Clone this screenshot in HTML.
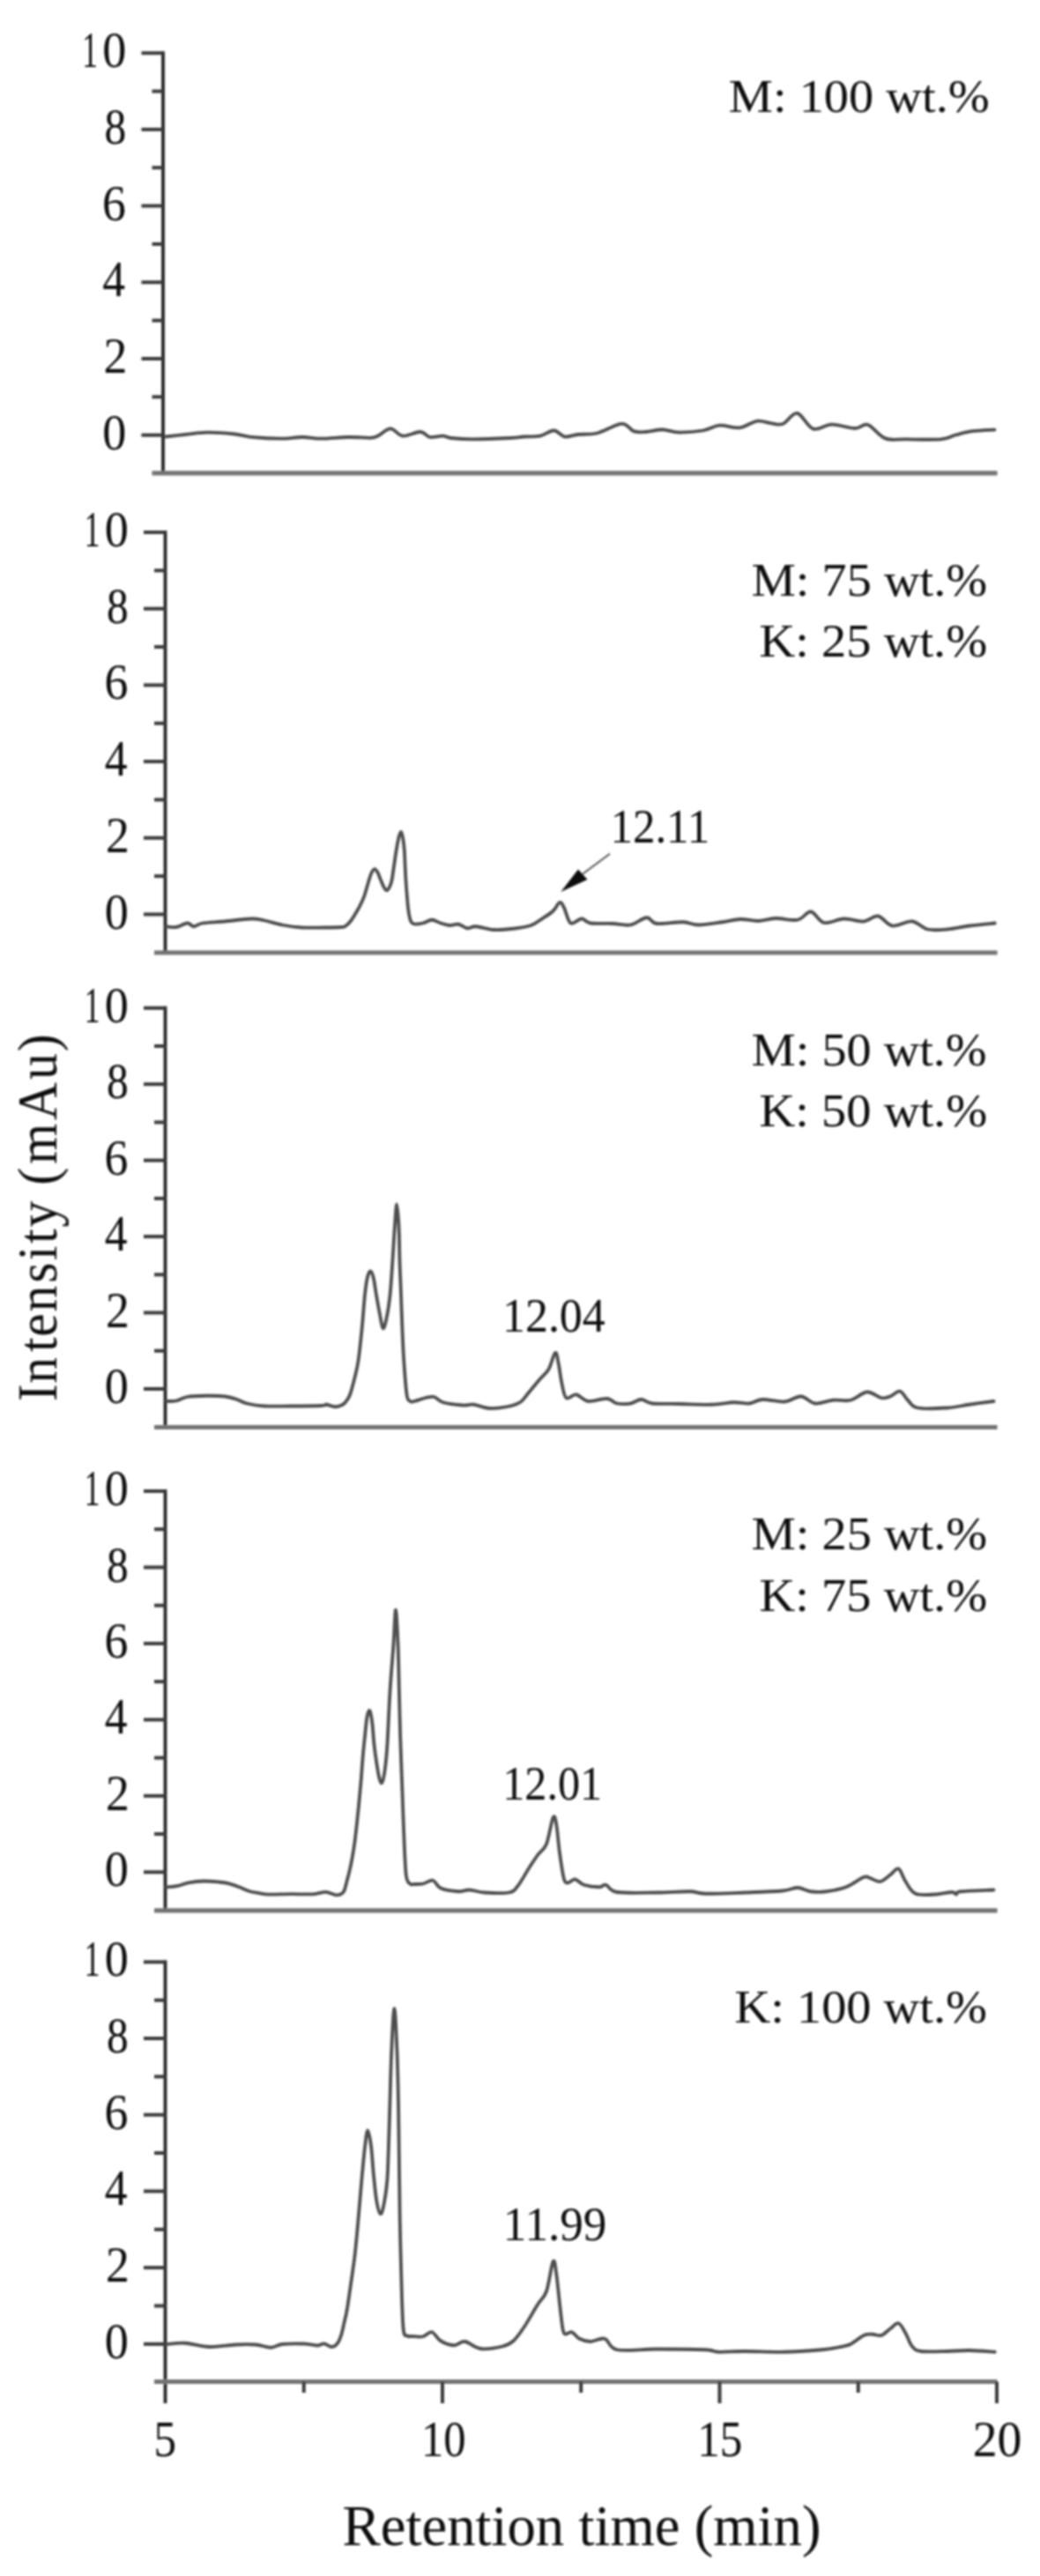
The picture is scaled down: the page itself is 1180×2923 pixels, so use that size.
<!DOCTYPE html><html><head><meta charset="utf-8"><title>Chromatograms</title><style>html,body{margin:0;padding:0;background:#fff;}body{width:1180px;height:2923px;overflow:hidden;}svg{display:block;}text{font-family:"Liberation Serif",serif;fill:#0a0a0a;}</style></head><body><svg width="1180" height="2923" viewBox="0 0 1180 2923"><defs><filter id="bl" filterUnits="userSpaceOnUse" x="0" y="0" width="1180" height="2923"><feGaussianBlur stdDeviation="0.8"/></filter></defs><rect width="1180" height="2923" fill="#fff"/><g filter="url(#bl)"><g stroke="#3a3a3a" stroke-width="4" fill="none"><line x1="185" y1="58.2" x2="185" y2="538.8" stroke="#262626" stroke-width="3.8"/><line x1="172.5" y1="536.8" x2="1131.5" y2="536.8" stroke="#737373" stroke-width="5.2"/><line x1="160.5" y1="493.7" x2="185" y2="493.7"/><line x1="172.5" y1="450.35" x2="185" y2="450.35"/><line x1="160.5" y1="407" x2="185" y2="407"/><line x1="172.5" y1="363.65" x2="185" y2="363.65"/><line x1="160.5" y1="320.3" x2="185" y2="320.3"/><line x1="172.5" y1="276.95" x2="185" y2="276.95"/><line x1="160.5" y1="233.6" x2="185" y2="233.6"/><line x1="172.5" y1="190.25" x2="185" y2="190.25"/><line x1="160.5" y1="146.9" x2="185" y2="146.9"/><line x1="172.5" y1="103.55" x2="185" y2="103.55"/><line x1="160.5" y1="60.2" x2="185" y2="60.2"/></g><g><text x="0" y="509.8" font-size="58" transform="translate(116.37,0) scale(0.9331,1)">0</text><text x="0" y="423.1" font-size="58" transform="translate(117.48,0) scale(0.9267,1)">2</text><text x="0" y="336.4" font-size="58" transform="translate(116.37,0) scale(0.8899,1)">4</text><text x="0" y="249.7" font-size="58" transform="translate(116.11,0) scale(0.9276,1)">6</text><text x="0" y="163" font-size="58" transform="translate(118.55,0) scale(0.8519,1)">8</text><text x="0" y="76.3" font-size="58" transform="translate(116.37,0) scale(0.9331,1)">0</text><text x="0" y="76.3" font-size="58" transform="translate(93.15,0) scale(0.6114,1)">1</text></g><g stroke="#3a3a3a" stroke-width="4" fill="none"><line x1="187.5" y1="602" x2="187.5" y2="1083" stroke="#262626" stroke-width="3.8"/><line x1="175" y1="1081" x2="1131.5" y2="1081" stroke="#737373" stroke-width="5.2"/><line x1="163" y1="1037.5" x2="187.5" y2="1037.5"/><line x1="175" y1="994.15" x2="187.5" y2="994.15"/><line x1="163" y1="950.8" x2="187.5" y2="950.8"/><line x1="175" y1="907.45" x2="187.5" y2="907.45"/><line x1="163" y1="864.1" x2="187.5" y2="864.1"/><line x1="175" y1="820.75" x2="187.5" y2="820.75"/><line x1="163" y1="777.4" x2="187.5" y2="777.4"/><line x1="175" y1="734.05" x2="187.5" y2="734.05"/><line x1="163" y1="690.7" x2="187.5" y2="690.7"/><line x1="175" y1="647.35" x2="187.5" y2="647.35"/><line x1="163" y1="604" x2="187.5" y2="604"/></g><g><text x="0" y="1053.6" font-size="58" transform="translate(118.87,0) scale(0.9331,1)">0</text><text x="0" y="966.9" font-size="58" transform="translate(119.98,0) scale(0.9267,1)">2</text><text x="0" y="880.2" font-size="58" transform="translate(118.87,0) scale(0.8899,1)">4</text><text x="0" y="793.5" font-size="58" transform="translate(118.61,0) scale(0.9276,1)">6</text><text x="0" y="706.8" font-size="58" transform="translate(121.05,0) scale(0.8519,1)">8</text><text x="0" y="620.1" font-size="58" transform="translate(118.87,0) scale(0.9331,1)">0</text><text x="0" y="620.1" font-size="58" transform="translate(95.65,0) scale(0.6114,1)">1</text></g><g stroke="#3a3a3a" stroke-width="4" fill="none"><line x1="187.5" y1="1141.8" x2="187.5" y2="1621.5" stroke="#262626" stroke-width="3.8"/><line x1="175" y1="1619.5" x2="1131.5" y2="1619.5" stroke="#737373" stroke-width="5.2"/><line x1="163" y1="1576" x2="187.5" y2="1576"/><line x1="175" y1="1532.78" x2="187.5" y2="1532.78"/><line x1="163" y1="1489.56" x2="187.5" y2="1489.56"/><line x1="175" y1="1446.34" x2="187.5" y2="1446.34"/><line x1="163" y1="1403.12" x2="187.5" y2="1403.12"/><line x1="175" y1="1359.9" x2="187.5" y2="1359.9"/><line x1="163" y1="1316.68" x2="187.5" y2="1316.68"/><line x1="175" y1="1273.46" x2="187.5" y2="1273.46"/><line x1="163" y1="1230.24" x2="187.5" y2="1230.24"/><line x1="175" y1="1187.02" x2="187.5" y2="1187.02"/><line x1="163" y1="1143.8" x2="187.5" y2="1143.8"/></g><g><text x="0" y="1592.1" font-size="58" transform="translate(118.87,0) scale(0.9331,1)">0</text><text x="0" y="1505.66" font-size="58" transform="translate(119.98,0) scale(0.9267,1)">2</text><text x="0" y="1419.22" font-size="58" transform="translate(118.87,0) scale(0.8899,1)">4</text><text x="0" y="1332.78" font-size="58" transform="translate(118.61,0) scale(0.9276,1)">6</text><text x="0" y="1246.34" font-size="58" transform="translate(121.05,0) scale(0.8519,1)">8</text><text x="0" y="1159.9" font-size="58" transform="translate(118.87,0) scale(0.9331,1)">0</text><text x="0" y="1159.9" font-size="58" transform="translate(95.65,0) scale(0.6114,1)">1</text></g><g stroke="#3a3a3a" stroke-width="4" fill="none"><line x1="187.5" y1="1690" x2="187.5" y2="2169.8" stroke="#262626" stroke-width="3.8"/><line x1="175" y1="2167.8" x2="1131.5" y2="2167.8" stroke="#737373" stroke-width="5.2"/><line x1="163" y1="2124.3" x2="187.5" y2="2124.3"/><line x1="175" y1="2081.07" x2="187.5" y2="2081.07"/><line x1="163" y1="2037.84" x2="187.5" y2="2037.84"/><line x1="175" y1="1994.61" x2="187.5" y2="1994.61"/><line x1="163" y1="1951.38" x2="187.5" y2="1951.38"/><line x1="175" y1="1908.15" x2="187.5" y2="1908.15"/><line x1="163" y1="1864.92" x2="187.5" y2="1864.92"/><line x1="175" y1="1821.69" x2="187.5" y2="1821.69"/><line x1="163" y1="1778.46" x2="187.5" y2="1778.46"/><line x1="175" y1="1735.23" x2="187.5" y2="1735.23"/><line x1="163" y1="1692" x2="187.5" y2="1692"/></g><g><text x="0" y="2140.4" font-size="58" transform="translate(118.87,0) scale(0.9331,1)">0</text><text x="0" y="2053.94" font-size="58" transform="translate(119.98,0) scale(0.9267,1)">2</text><text x="0" y="1967.48" font-size="58" transform="translate(118.87,0) scale(0.8899,1)">4</text><text x="0" y="1881.02" font-size="58" transform="translate(118.61,0) scale(0.9276,1)">6</text><text x="0" y="1794.56" font-size="58" transform="translate(121.05,0) scale(0.8519,1)">8</text><text x="0" y="1708.1" font-size="58" transform="translate(118.87,0) scale(0.9331,1)">0</text><text x="0" y="1708.1" font-size="58" transform="translate(95.65,0) scale(0.6114,1)">1</text></g><g stroke="#3a3a3a" stroke-width="4" fill="none"><line x1="187.5" y1="2224.3" x2="187.5" y2="2727" stroke="#262626" stroke-width="3.8"/><line x1="175" y1="2702.5" x2="1131.5" y2="2702.5" stroke="#737373" stroke-width="5.2"/><line x1="163" y1="2659.8" x2="187.5" y2="2659.8"/><line x1="175" y1="2616.45" x2="187.5" y2="2616.45"/><line x1="163" y1="2573.1" x2="187.5" y2="2573.1"/><line x1="175" y1="2529.75" x2="187.5" y2="2529.75"/><line x1="163" y1="2486.4" x2="187.5" y2="2486.4"/><line x1="175" y1="2443.05" x2="187.5" y2="2443.05"/><line x1="163" y1="2399.7" x2="187.5" y2="2399.7"/><line x1="175" y1="2356.35" x2="187.5" y2="2356.35"/><line x1="163" y1="2313" x2="187.5" y2="2313"/><line x1="175" y1="2269.65" x2="187.5" y2="2269.65"/><line x1="163" y1="2226.3" x2="187.5" y2="2226.3"/></g><g><text x="0" y="2675.9" font-size="58" transform="translate(118.87,0) scale(0.9331,1)">0</text><text x="0" y="2589.2" font-size="58" transform="translate(119.98,0) scale(0.9267,1)">2</text><text x="0" y="2502.5" font-size="58" transform="translate(118.87,0) scale(0.8899,1)">4</text><text x="0" y="2415.8" font-size="58" transform="translate(118.61,0) scale(0.9276,1)">6</text><text x="0" y="2329.1" font-size="58" transform="translate(121.05,0) scale(0.8519,1)">8</text><text x="0" y="2242.4" font-size="58" transform="translate(118.87,0) scale(0.9331,1)">0</text><text x="0" y="2242.4" font-size="58" transform="translate(95.65,0) scale(0.6114,1)">1</text></g><g stroke="#3a3a3a" stroke-width="4" fill="none"><line x1="344.75" y1="2702.5" x2="344.75" y2="2715"/><line x1="502" y1="2702.5" x2="502" y2="2727"/><line x1="659.25" y1="2702.5" x2="659.25" y2="2715"/><line x1="816.5" y1="2702.5" x2="816.5" y2="2727"/><line x1="973.75" y1="2702.5" x2="973.75" y2="2715"/><line x1="1131" y1="2702.5" x2="1131" y2="2727"/></g><g><text x="0" y="2787.5" font-size="58" transform="translate(174.56,0) scale(0.8824,1)">5</text><text x="0" y="2787.5" font-size="58" transform="translate(477.97,0) scale(0.8729,1)">10</text><text x="0" y="2787.5" font-size="58" transform="translate(791.23,0) scale(0.8813,1)">15</text><text x="0" y="2787.5" font-size="58" transform="translate(1103.69,0) scale(0.9603,1)">20</text></g><path d="M187.7,495.5C191.55,495.08 202.85,493.82 210.8,493C218.75,492.18 226.2,490.68 235.4,490.6C244.6,490.52 257.28,491.57 266,492.5C274.72,493.43 278.95,495.33 287.7,496.2C296.45,497.07 309.28,497.73 318.5,497.7C327.72,497.67 335.32,496 343,496C350.68,496 355.87,497.7 364.6,497.7C373.33,497.7 386.17,496.15 395.4,496C404.63,495.85 414.4,497.03 420,496.8C425.6,496.57 425.17,496.35 429,494.6C432.83,492.85 438.33,486.3 443,486.3C447.67,486.3 451.33,493.98 457,494.6C462.67,495.22 471.88,489.77 477,490C482.12,490.23 483.48,495.23 487.7,496C491.92,496.77 498.33,494.43 502.3,494.6C506.27,494.77 505.88,496.38 511.5,497C517.12,497.62 524.75,498.3 536,498.3C547.25,498.3 569.23,497.47 579,497C588.77,496.53 588.93,495.9 594.6,495.5C600.27,495.1 607.35,495.77 613,494.6C618.65,493.43 623.87,488.35 628.5,488.5C633.13,488.65 636.22,494.75 640.8,495.5C645.38,496.25 649.85,493.67 656,493C662.15,492.33 669.47,493.53 677.7,491.5C685.93,489.47 698.48,481.15 705.4,480.8C712.32,480.45 714.6,487.87 719.2,489.4C723.8,490.93 727.62,490.32 733,490C738.38,489.68 745.33,487.4 751.5,487.5C757.67,487.6 762.3,490.43 770,490.6C777.7,490.77 789.98,489.82 797.7,488.5C805.42,487.18 809.38,483.23 816.3,482.7C823.22,482.17 832.12,486.12 839.2,485.3C846.28,484.48 852.8,478.62 858.8,477.8C864.8,476.98 870.28,479.87 875.2,480.4C880.12,480.93 883.4,482.9 888.3,481C893.2,479.1 898.88,468.07 904.6,469C910.32,469.93 916.07,484.48 922.6,486.6C929.13,488.72 935.9,481.8 943.8,481.7C951.7,481.6 963.18,485.95 970,486C976.82,486.05 978.98,480.1 984.7,482C990.42,483.9 996.95,494.67 1004.3,497.4C1011.65,500.13 1018.18,498.23 1028.8,498.4C1039.42,498.57 1058.73,499.22 1068,498.4C1077.27,497.58 1078.4,495.03 1084.4,493.5C1090.4,491.97 1096.65,490.18 1104,489.2C1111.35,488.22 1124.42,487.87 1128.5,487.6" fill="none" stroke="#4d4d4d" stroke-width="3.8" stroke-linejoin="round" stroke-linecap="round"/><path d="M189,1051.25C190.83,1051.38 196.08,1052.62 200,1052C203.92,1051.38 209.17,1047.62 212.5,1047.5C215.83,1047.38 217.08,1051.25 220,1051.25C222.92,1051.25 224.17,1048.46 230,1047.5C235.83,1046.54 245.83,1046.33 255,1045.5C264.17,1044.67 277.5,1042.67 285,1042.5C292.5,1042.33 294.17,1043.33 300,1044.5C305.83,1045.67 312.92,1048.17 320,1049.5C327.08,1050.83 334.58,1052 342.5,1052.5C350.42,1053 360,1052.58 367.5,1052.5C375,1052.42 383.47,1052.25 387.5,1052C391.53,1051.75 389.95,1052.17 391.7,1051C393.45,1049.83 395.77,1047.87 398,1045C400.23,1042.13 403.18,1037.05 405.1,1033.8C407.02,1030.55 408.12,1028.38 409.5,1025.5C410.88,1022.62 411.9,1020.88 413.4,1016.5C414.9,1012.12 417.15,1003.53 418.5,999.2C419.85,994.87 420.42,992.67 421.5,990.5C422.58,988.33 423.83,986.28 425,986.2C426.17,986.12 427.33,987.95 428.5,990C429.67,992.05 430.83,995.75 432,998.5C433.17,1001.25 434.35,1004.52 435.5,1006.5C436.65,1008.48 437.82,1010.4 438.9,1010.4C439.98,1010.4 441.07,1008.37 442,1006.5C442.93,1004.63 443.65,1003.3 444.5,999.2C445.35,995.1 446.23,987.67 447.1,981.9C447.97,976.13 448.8,969.92 449.7,964.6C450.6,959.28 451.63,953.47 452.5,950C453.37,946.53 454.15,943.8 454.9,943.8C455.65,943.8 456.35,946.53 457,950C457.65,953.47 458.37,959.28 458.8,964.6C459.23,969.92 459.32,976.13 459.6,981.9C459.88,987.67 460.13,993.43 460.5,999.2C460.87,1004.97 461.3,1010.73 461.8,1016.5C462.3,1022.27 462.8,1029.05 463.5,1033.8C464.2,1038.55 464.92,1042.55 466,1045C467.08,1047.45 467.67,1048.08 470,1048.5C472.33,1048.92 476.67,1048.29 480,1047.5C483.33,1046.71 486.67,1043.75 490,1043.75C493.33,1043.75 496.67,1046.46 500,1047.5C503.33,1048.54 506.67,1049.79 510,1050C513.33,1050.21 516.67,1048.21 520,1048.75C523.33,1049.29 526.67,1052.83 530,1053.25C533.33,1053.67 535,1050.96 540,1051.25C545,1051.54 552.92,1054.58 560,1055C567.08,1055.42 575.42,1054.58 582.5,1053.75C589.58,1052.92 597.08,1051.88 602.5,1050C607.92,1048.12 610.83,1045.21 615,1042.5C619.17,1039.79 624.17,1036.83 627.5,1033.75C630.83,1030.67 632.92,1024.62 635,1024C637.08,1023.38 637.92,1026.08 640,1030C642.08,1033.92 644.17,1045.42 647.5,1047.5C650.83,1049.58 656.25,1042.5 660,1042.5C663.75,1042.5 664.17,1046.58 670,1047.5C675.83,1048.42 687.5,1047.67 695,1048C702.5,1048.33 708.54,1050.62 715,1049.5C721.46,1048.38 728.75,1041.5 733.75,1041.25C738.75,1041 738.12,1047.17 745,1048C751.88,1048.83 767.08,1046 775,1046.25C782.92,1046.5 785,1049.5 792.5,1049.5C800,1049.5 812.08,1047.33 820,1046.25C827.92,1045.17 833.33,1043.21 840,1043C846.67,1042.79 853.33,1045.17 860,1045C866.67,1044.83 872.5,1042.21 880,1042C887.5,1041.79 898.33,1045 905,1043.75C911.67,1042.5 915,1033.96 920,1034.5C925,1035.04 928.75,1045.67 935,1047C941.25,1048.33 950,1042.75 957.5,1042.5C965,1042.25 973.54,1046 980,1045.5C986.46,1045 990.83,1038.67 996.25,1039.5C1001.67,1040.33 1006.04,1049.5 1012.5,1050.5C1018.96,1051.5 1028.33,1044.83 1035,1045.5C1041.67,1046.17 1045.83,1053 1052.5,1054.5C1059.17,1056 1067.08,1055.17 1075,1054.5C1082.92,1053.83 1091.04,1051.67 1100,1050.5C1108.96,1049.33 1123.96,1048 1128.75,1047.5" fill="none" stroke="#4d4d4d" stroke-width="3.8" stroke-linejoin="round" stroke-linecap="round"/><path d="M189,1590C190.83,1589.92 196.08,1590.33 200,1589.5C203.92,1588.67 206.67,1585.96 212.5,1585C218.33,1584.04 227.92,1583.83 235,1583.75C242.08,1583.67 249.58,1583.88 255,1584.5C260.42,1585.12 263.33,1586.17 267.5,1587.5C271.67,1588.83 274.58,1591.17 280,1592.5C285.42,1593.83 291.67,1595 300,1595.5C308.33,1596 319.17,1595.58 330,1595.5C340.83,1595.42 358.33,1595.29 365,1595C371.67,1594.71 367.5,1593.54 370,1593.75C372.5,1593.96 377.08,1596.12 380,1596.25C382.92,1596.38 385.5,1595.38 387.5,1594.5C389.5,1593.62 390.43,1592.92 392,1591C393.57,1589.08 395.32,1587 396.9,1583C398.48,1579 399.92,1573.33 401.5,1567C403.08,1560.67 404.87,1555 406.4,1545C407.93,1535 409.43,1519.67 410.7,1507C411.97,1494.33 412.95,1478.67 414,1469C415.05,1459.33 415.88,1453.42 417,1449C418.12,1444.58 419.53,1442.17 420.7,1442.5C421.87,1442.83 422.97,1446.58 424,1451C425.03,1455.42 425.78,1462.5 426.9,1469C428.02,1475.5 429.43,1483.63 430.7,1490C431.97,1496.37 433.2,1506.2 434.5,1507.2C435.8,1508.2 437.15,1502.37 438.5,1496C439.85,1489.63 441.45,1479.83 442.6,1469C443.75,1458.17 444.53,1443.67 445.4,1431C446.27,1418.33 447,1403.75 447.8,1393C448.6,1382.25 449.4,1366.5 450.2,1366.5C451,1366.5 452.05,1382.25 452.6,1393C453.15,1403.75 453.1,1418.33 453.5,1431C453.9,1443.67 454.52,1456.33 455,1469C455.48,1481.67 455.85,1494.33 456.4,1507C456.95,1519.67 457.43,1532.33 458.3,1545C459.17,1557.67 460.42,1575.5 461.6,1583C462.78,1590.5 464,1588.83 465.4,1590C466.8,1591.17 467.15,1590.62 470,1590C472.85,1589.38 478.75,1587.08 482.5,1586.25C486.25,1585.42 489.17,1584.17 492.5,1585C495.83,1585.83 497.08,1589.67 502.5,1591.25C507.92,1592.83 519.17,1594.08 525,1594.5C530.83,1594.92 532.5,1593.17 537.5,1593.75C542.5,1594.33 548.75,1597.58 555,1598C561.25,1598.42 569.17,1597.38 575,1596.25C580.83,1595.12 585.83,1593.96 590,1591.25C594.17,1588.54 596.25,1584.38 600,1580C603.75,1575.62 608.75,1569.38 612.5,1565C616.25,1560.62 619.58,1558.75 622.5,1553.75C625.42,1548.75 628.12,1536.04 630,1535C631.88,1533.96 632.5,1541.67 633.75,1547.5C635,1553.33 636.04,1563.54 637.5,1570C638.96,1576.46 639.79,1584.17 642.5,1586.25C645.21,1588.33 649.58,1581.88 653.75,1582.5C657.92,1583.12 661.67,1589.25 667.5,1590C673.33,1590.75 683.33,1586.58 688.75,1587C694.17,1587.42 695.62,1591.58 700,1592.5C704.38,1593.42 710.42,1593.25 715,1592.5C719.58,1591.75 723.33,1588 727.5,1588C731.67,1588 732.92,1591.67 740,1592.5C747.08,1593.33 758.75,1592.79 770,1593C781.25,1593.21 797.08,1594.04 807.5,1593.75C817.92,1593.46 825.42,1591.46 832.5,1591.25C839.58,1591.04 844.58,1593.04 850,1592.5C855.42,1591.96 858.33,1588.33 865,1588C871.67,1587.67 882.71,1591.08 890,1590.5C897.29,1589.92 902.92,1584.17 908.75,1584.5C914.58,1584.83 918.96,1591.79 925,1592.5C931.04,1593.21 938.33,1589.38 945,1588.75C951.67,1588.12 958.54,1590.29 965,1588.75C971.46,1587.21 977.92,1579.92 983.75,1579.5C989.58,1579.08 995.62,1585.42 1000,1586.25C1004.38,1587.08 1006.46,1585.75 1010,1584.5C1013.54,1583.25 1017.92,1578.04 1021.25,1578.75C1024.58,1579.46 1026.67,1585.62 1030,1588.75C1033.33,1591.88 1033.75,1596.04 1041.25,1597.5C1048.75,1598.96 1065.21,1598.12 1075,1597.5C1084.79,1596.88 1091.25,1595 1100,1593.75C1108.75,1592.5 1122.92,1590.62 1127.5,1590" fill="none" stroke="#4d4d4d" stroke-width="3.8" stroke-linejoin="round" stroke-linecap="round"/><path d="M189,2141.3C191.17,2141.05 197.87,2140.63 202,2139.8C206.13,2138.97 208.97,2137.18 213.8,2136.3C218.63,2135.42 225.3,2134.63 231,2134.5C236.7,2134.37 243.17,2135.03 248,2135.5C252.83,2135.97 256.08,2136.33 260,2137.3C263.92,2138.27 267.67,2139.85 271.5,2141.3C275.33,2142.75 279.08,2144.83 283,2146C286.92,2147.17 291.33,2147.7 295,2148.3C298.67,2148.9 299.17,2149.45 305,2149.6C310.83,2149.75 321.67,2149.25 330,2149.2C338.33,2149.15 348.42,2149.7 355,2149.3C361.58,2148.9 365.07,2146.63 369.5,2146.8C373.93,2146.97 378.23,2150.3 381.6,2150.3C384.97,2150.3 387.68,2149.52 389.7,2146.8C391.72,2144.08 392.47,2138.37 393.7,2134C394.93,2129.63 396.08,2125.08 397.1,2120.6C398.12,2116.12 398.9,2112.2 399.8,2107.1C400.7,2102 401.6,2096.75 402.5,2090C403.4,2083.25 404.33,2074.63 405.2,2066.6C406.07,2058.57 406.92,2050.07 407.7,2041.8C408.48,2033.53 409.22,2025.28 409.9,2017C410.58,2008.72 411.07,2000.38 411.8,1992.1C412.53,1983.82 413.53,1974.55 414.3,1967.3C415.07,1960.05 415.53,1952.98 416.4,1948.6C417.27,1944.22 418.52,1939.97 419.5,1941C420.48,1942.03 421.47,1948.35 422.3,1954.8C423.13,1961.25 423.57,1971.42 424.5,1979.7C425.43,1987.98 426.9,1998.12 427.9,2004.5C428.9,2010.88 429.62,2014.88 430.5,2018C431.38,2021.12 432.28,2024.03 433.2,2023.2C434.12,2022.37 435.12,2018.2 436,2013C436.88,2007.8 437.85,1999 438.5,1992C439.15,1985 439.23,1983.17 439.9,1971C440.57,1958.83 441.42,1936.33 442.5,1919C443.58,1901.67 445.32,1882.38 446.4,1867C447.48,1851.62 448.13,1826.7 449,1826.7C449.87,1826.7 450.95,1851.62 451.6,1867C452.25,1882.38 452.47,1901.67 452.9,1919C453.33,1936.33 453.67,1953.67 454.2,1971C454.73,1988.33 455.47,2005.67 456.1,2023C456.73,2040.33 457.23,2057.67 458,2075C458.77,2092.33 459.5,2116.58 460.7,2127C461.9,2137.42 463.65,2135.67 465.2,2137.5C466.75,2139.33 467.53,2138 470,2138C472.47,2138 476.46,2138.21 480,2137.5C483.54,2136.79 487.92,2132.92 491.25,2133.75C494.58,2134.58 495.21,2140.42 500,2142.5C504.79,2144.58 514.58,2145.92 520,2146.25C525.42,2146.58 527.5,2144.29 532.5,2144.5C537.5,2144.71 542.5,2147 550,2147.5C557.5,2148 571.25,2148.75 577.5,2147.5C583.75,2146.25 583.75,2144.58 587.5,2140C591.25,2135.42 596.25,2125.83 600,2120C603.75,2114.17 606.67,2109.58 610,2105C613.33,2100.42 617.08,2099.58 620,2092.5C622.92,2085.42 625.62,2066.25 627.5,2062.5C629.38,2058.75 630,2063.33 631.25,2070C632.5,2076.67 633.54,2092.08 635,2102.5C636.46,2112.92 638.33,2126.88 640,2132.5C641.67,2138.12 642.92,2136.25 645,2136.25C647.08,2136.25 649.58,2132.08 652.5,2132.5C655.42,2132.92 657.92,2137.29 662.5,2138.75C667.08,2140.21 675.83,2141.25 680,2141.25C684.17,2141.25 684.17,2137.79 687.5,2138.75C690.83,2139.71 690.42,2145.54 700,2147C709.58,2148.46 731.25,2147.62 745,2147.5C758.75,2147.38 773.33,2146.04 782.5,2146.25C791.67,2146.46 789.58,2148.54 800,2148.75C810.42,2148.96 830.42,2148.04 845,2147.5C859.58,2146.96 877.5,2146.42 887.5,2145.5C897.5,2144.58 899.58,2141.88 905,2142C910.42,2142.12 914.58,2145.54 920,2146.25C925.42,2146.96 930.83,2147.08 937.5,2146.25C944.17,2145.42 952.92,2143.96 960,2141.25C967.08,2138.54 975.42,2131.67 980,2130C984.58,2128.33 984.38,2130.42 987.5,2131.25C990.62,2132.08 995,2135.62 998.75,2135C1002.5,2134.38 1006.54,2129.92 1010,2127.5C1013.46,2125.08 1016.58,2119.25 1019.5,2120.5C1022.42,2121.75 1024.29,2130.29 1027.5,2135C1030.71,2139.71 1032.92,2146.33 1038.75,2148.75C1044.58,2151.17 1055.62,2149.79 1062.5,2149.5C1069.38,2149.21 1076.25,2147 1080,2147C1083.75,2147 1083.33,2149.62 1085,2149.5C1086.67,2149.38 1082.92,2147.08 1090,2146.25C1097.08,2145.42 1121.25,2144.79 1127.5,2144.5" fill="none" stroke="#4d4d4d" stroke-width="3.8" stroke-linejoin="round" stroke-linecap="round"/><path d="M189,2660C192.5,2659.79 201.92,2658.25 210,2658.75C218.08,2659.25 227.92,2662.71 237.5,2663C247.08,2663.29 258.75,2660.92 267.5,2660.5C276.25,2660.08 283.33,2659.96 290,2660.5C296.67,2661.04 302.5,2663.83 307.5,2663.75C312.5,2663.67 313.75,2660.71 320,2660C326.25,2659.29 338.33,2659.25 345,2659.5C351.67,2659.75 356.25,2661.53 360,2661.5C363.75,2661.47 364.83,2659.05 367.5,2659.3C370.17,2659.55 373.53,2662.92 376,2663C378.47,2663.08 380.48,2661.9 382.3,2659.8C384.12,2657.7 385.55,2654.37 386.9,2650.4C388.25,2646.43 389.27,2640.9 390.4,2636C391.53,2631.1 392.4,2628.53 393.7,2621C395,2613.47 396.73,2601 398.2,2590.8C399.67,2580.6 401.27,2570.15 402.5,2559.8C403.73,2549.45 404.63,2539.07 405.6,2528.7C406.57,2518.33 407.4,2507.95 408.3,2497.6C409.2,2487.25 410.03,2476.95 411,2466.6C411.97,2456.25 413.05,2443.72 414.1,2435.5C415.15,2427.28 416.13,2417.3 417.3,2417.3C418.47,2417.3 420.02,2427.28 421.1,2435.5C422.18,2443.72 422.77,2456.25 423.8,2466.6C424.83,2476.95 425.97,2490 427.3,2497.6C428.63,2505.2 430.38,2511.8 431.8,2512.2C433.22,2512.6 434.53,2506.53 435.8,2500C437.07,2493.47 438.5,2485.23 439.4,2473C440.3,2460.77 440.72,2440.43 441.2,2426.6C441.68,2412.77 441.8,2406.45 442.3,2390C442.8,2373.55 443.35,2346.4 444.2,2327.9C445.05,2309.4 446.35,2279 447.4,2279C448.45,2279 449.72,2309.28 450.5,2327.9C451.28,2346.52 451.7,2369.75 452.1,2390.7C452.5,2411.65 452.63,2432.63 452.9,2453.6C453.17,2474.57 453.32,2495.55 453.7,2516.5C454.08,2537.45 454.55,2558.35 455.2,2579.3C455.85,2600.25 456.38,2630.33 457.6,2642.2C458.82,2654.07 460.93,2649.03 462.5,2650.5C464.07,2651.97 464.08,2650.88 467,2651C469.92,2651.12 476.17,2652.04 480,2651.25C483.83,2650.46 486.67,2645.42 490,2646.25C493.33,2647.08 495.83,2653.75 500,2656.25C504.17,2658.75 510.42,2661.12 515,2661.25C519.58,2661.38 522.5,2656.38 527.5,2657C532.5,2657.62 537.92,2664.08 545,2665C552.08,2665.92 563.75,2663.96 570,2662.5C576.25,2661.04 578.33,2660 582.5,2656.25C586.67,2652.5 590.42,2646.88 595,2640C599.58,2633.12 605.83,2621.67 610,2615C614.17,2608.33 617.08,2608.12 620,2600C622.92,2591.88 625.62,2569.58 627.5,2566.25C629.38,2562.92 629.79,2570.21 631.25,2580C632.71,2589.79 634.79,2613.75 636.25,2625C637.71,2636.25 637.92,2643.96 640,2647.5C642.08,2651.04 645.83,2645.21 648.75,2646.25C651.67,2647.29 653.96,2651.96 657.5,2653.75C661.04,2655.54 665.21,2657 670,2657C674.79,2657 681.25,2652.21 686.25,2653.75C691.25,2655.29 690.21,2664.29 700,2666.25C709.79,2668.21 728.33,2665.5 745,2665.5C761.67,2665.5 788.33,2665.71 800,2666.25C811.67,2666.79 807.5,2668.46 815,2668.75C822.5,2669.04 832.5,2668 845,2668C857.5,2668 875.42,2669.04 890,2668.75C904.58,2668.46 922.5,2667.08 932.5,2666.25C942.5,2665.42 944.58,2664.79 950,2663.75C955.42,2662.71 960,2662.29 965,2660C970,2657.71 975.83,2651.88 980,2650C984.17,2648.12 986.67,2648.75 990,2648.75C993.33,2648.75 996.67,2651.04 1000,2650C1003.33,2648.96 1006.75,2644.79 1010,2642.5C1013.25,2640.21 1016.58,2635.42 1019.5,2636.25C1022.42,2637.08 1024.92,2643.12 1027.5,2647.5C1030.08,2651.88 1032.08,2659.08 1035,2662.5C1037.92,2665.92 1038.33,2667.08 1045,2668C1051.67,2668.92 1065.83,2668.17 1075,2668C1084.17,2667.83 1091.04,2666.88 1100,2667C1108.96,2667.12 1123.96,2668.46 1128.75,2668.75" fill="none" stroke="#4d4d4d" stroke-width="3.8" stroke-linejoin="round" stroke-linecap="round"/><text x="826.81" y="126.5" font-size="53.5" textLength="295.88" lengthAdjust="spacingAndGlyphs">M: 100 wt.%</text><text x="852.81" y="675.5" font-size="53.5" textLength="267.38" lengthAdjust="spacingAndGlyphs">M: 75 wt.%</text><text x="861.61" y="744.5" font-size="53.5" textLength="258.55" lengthAdjust="spacingAndGlyphs">K: 25 wt.%</text><text x="852.81" y="1209" font-size="53.5" textLength="266.87" lengthAdjust="spacingAndGlyphs">M: 50 wt.%</text><text x="861.61" y="1278.2" font-size="53.5" textLength="258.55" lengthAdjust="spacingAndGlyphs">K: 50 wt.%</text><text x="852.81" y="1757.8" font-size="53.5" textLength="267.38" lengthAdjust="spacingAndGlyphs">M: 25 wt.%</text><text x="861.61" y="1827.5" font-size="53.5" textLength="258.55" lengthAdjust="spacingAndGlyphs">K: 75 wt.%</text><text x="833.51" y="2295" font-size="53.5" textLength="286.55" lengthAdjust="spacingAndGlyphs">K: 100 wt.%</text><text x="692.41" y="955.5" font-size="54" textLength="112.8" lengthAdjust="spacingAndGlyphs">12.11</text><text x="570.03" y="1510.7" font-size="54" textLength="116.71" lengthAdjust="spacingAndGlyphs">12.04</text><text x="570.18" y="2042" font-size="54" textLength="113.04" lengthAdjust="spacingAndGlyphs">12.01</text><text x="570.82" y="2542.2" font-size="54" textLength="117.57" lengthAdjust="spacingAndGlyphs">11.99</text><line x1="692" y1="968.8" x2="660" y2="992.5" stroke="#555" stroke-width="2"/><polygon points="636.3,1012 656,986.5 666.5,998" fill="#111"/><text x="388.5" y="2888" font-size="65" textLength="543" lengthAdjust="spacingAndGlyphs">Retention time (min)</text><g font-size="64"><text transform="translate(64.4,1580.3) rotate(-90) scale(0.93,1)" x="-10.64" y="0">I</text><text transform="translate(64.4,1554.7) rotate(-90) scale(0.93,1)" x="-16.24" y="0">n</text><text transform="translate(64.4,1525.5) rotate(-90) scale(0.93,1)" x="-9.04" y="0">t</text><text transform="translate(64.4,1503.4) rotate(-90) scale(0.93,1)" x="-14.4" y="0">e</text><text transform="translate(64.4,1473.5) rotate(-90) scale(0.93,1)" x="-16.24" y="0">n</text><text transform="translate(64.4,1444) rotate(-90) scale(0.93,1)" x="-12.56" y="0">s</text><text transform="translate(64.4,1421.9) rotate(-90) scale(0.93,1)" x="-8.96" y="0">i</text><text transform="translate(64.4,1402.6) rotate(-90) scale(0.93,1)" x="-9.04" y="0">t</text><text transform="translate(64.4,1377.5) rotate(-90) scale(0.93,1)" x="-16.24" y="0">y</text><text transform="translate(64.4,1334.6) rotate(-90) scale(0.93,1)" x="-11.04" y="0">(</text><text transform="translate(64.4,1297.8) rotate(-90) scale(0.93,1)" x="-25.04" y="0">m</text><text transform="translate(64.4,1249.4) rotate(-90) scale(0.93,1)" x="-23.2" y="0">A</text><text transform="translate(64.4,1210.2) rotate(-90) scale(0.93,1)" x="-15.84" y="0">u</text><text transform="translate(64.4,1183.7) rotate(-90) scale(0.93,1)" x="-10.32" y="0">)</text></g></g></svg></body></html>
